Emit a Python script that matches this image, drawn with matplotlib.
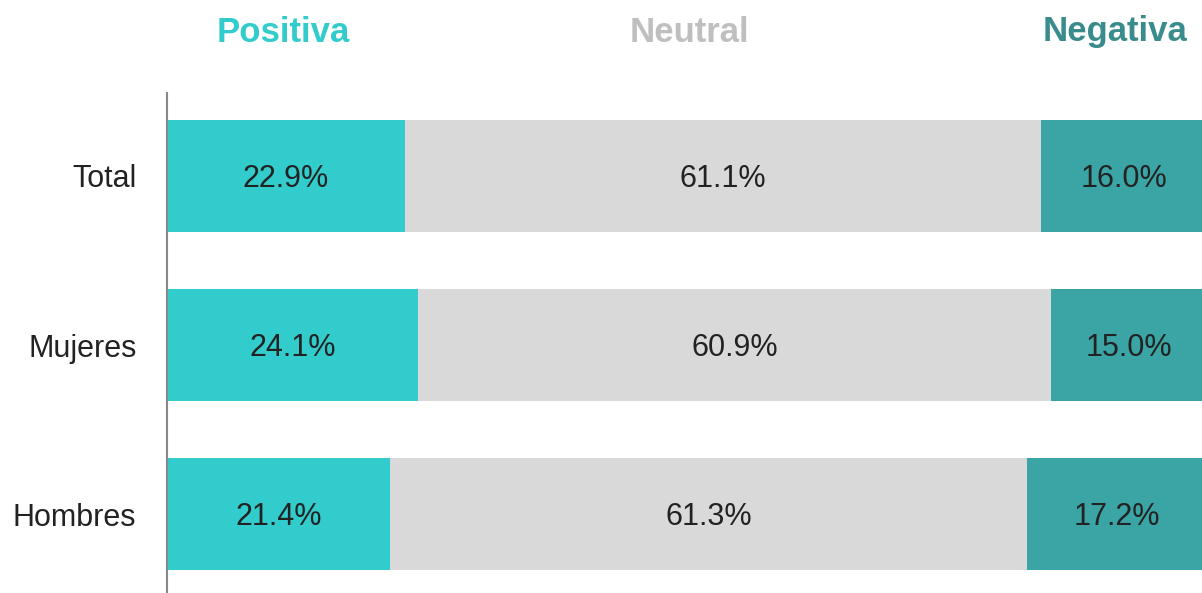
import matplotlib.pyplot as plt
import matplotlib.transforms as mtransforms
import numpy as np

groups = ["Total", "Mujeres", "Hombres"]
positiva = [22.9, 24.1, 21.4]
neutral = [61.1, 60.9, 61.3]
negativa = [16.0, 15.0, 17.2]

series = ["Positiva", "Neutral", "Negativa"]
bar_colors = ["#33CCCC", "#D9D9D9", "#3BA4A4"]
head_colors = ["#33CCCC", "#BFBFBF", "#3A8C8C"]
head_x = [11.15, 50.2, 91.2]

plt.rcParams["font.family"] = ["Liberation Sans", "DejaVu Sans"]

fig = plt.figure(figsize=(12.02, 5.93), dpi=100)
# plot area runs a little past the right edge, as in the original
ax = fig.add_axes([167 / 1202, 0, 1040 / 1202, 500 / 593])

y = np.arange(len(groups))
left = np.zeros(len(groups))
for vals, color in zip([positiva, neutral, negativa], bar_colors):
    ax.barh(y, vals, left=left, height=0.663, color=color, edgecolor="none")
    for yi, l, v in zip(y, left, vals):
        ax.text(l + v / 2, yi + 0.02, f"{v:.1f}%", ha="center", va="center",
                fontsize=22, color="#222222")
    left = left + np.array(vals)

ax.set_xlim(0, 100)
ax.set_ylim(2.467, -0.491)
ax.set_yticks(y)
ax.set_yticklabels(groups, fontsize=22, color="#222222")
ax.tick_params(axis="y", length=0, pad=22)
ax.set_xticks([])
for side in ["top", "right", "bottom"]:
    ax.spines[side].set_visible(False)
ax.spines["left"].set_color("#888888")
ax.spines["left"].set_linewidth(1.5)

trans = mtransforms.blended_transform_factory(ax.transData, fig.transFigure)
for name, hx, hc in zip(series, head_x, head_colors):
    ax.text(hx, 1 - 32 / 593, name, transform=trans, ha="center", va="center",
            fontsize=25, fontweight="bold", color=hc)

fig.savefig("out.png", dpi=100)
